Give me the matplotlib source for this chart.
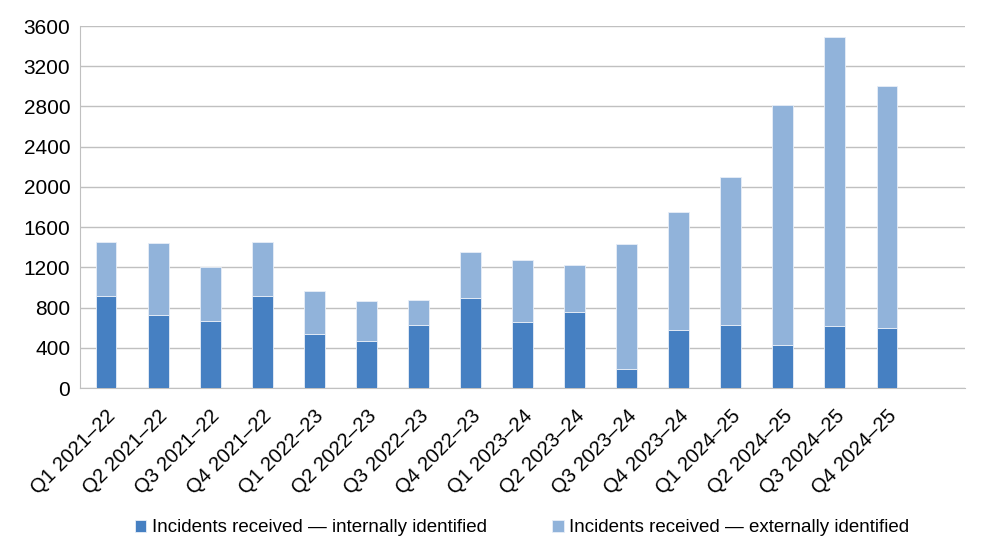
import matplotlib.pyplot as plt
import numpy as np

plt.rcParams['font.family'] = ['Liberation Sans', 'DejaVu Sans']

quarters = ["Q1 2021–22", "Q2 2021–22", "Q3 2021–22", "Q4 2021–22",
            "Q1 2022–23", "Q2 2022–23", "Q3 2022–23", "Q4 2022–23",
            "Q1 2023–24", "Q2 2023–24", "Q3 2023–24", "Q4 2023–24",
            "Q1 2024–25", "Q2 2024–25", "Q3 2024–25", "Q4 2024–25"]
internal = [911, 722, 663, 911, 534, 471, 623, 891,
            653, 759, 186, 573, 630, 424, 613, 593]
external = [537, 723, 540, 537, 430, 397, 255, 458,
            620, 464, 1242, 1173, 1471, 2386, 2877, 2413]

dark = "#4680c2"
light = "#91b3da"

fig = plt.figure(figsize=(9.91, 5.59), dpi=100)
ax = fig.add_axes([80/991, 1 - 388/559, 885/991, 362/559])

x = np.arange(len(quarters))
ax.bar(x, internal, width=0.4, color=dark, edgecolor="#e8eef7", linewidth=0.6,
       label="Incidents received — internally identified", zorder=3)
ax.bar(x, external, width=0.4, bottom=internal, color=light, edgecolor="#e8eef7",
       linewidth=0.6, label="Incidents received — externally identified", zorder=3)

ax.set_xlim(-0.5, len(quarters) + 0.5)
ax.set_ylim(0, 3600)
ax.set_yticks(np.arange(0, 3601, 400))
ax.yaxis.grid(True, color="#c0c0c0", linewidth=1, zorder=0)
ax.set_xticks(x)
ax.set_xticklabels(quarters, rotation=45, ha="right", rotation_mode="anchor")
ax.tick_params(axis="both", length=0, colors="black")
ax.tick_params(axis="x", pad=13, labelsize=14.5)
ax.tick_params(axis="y", pad=7, labelsize=15)
for s in ["top", "right"]:
    ax.spines[s].set_visible(False)
for s in ["left", "bottom"]:
    ax.spines[s].set_color("#c0c0c0")

fig.legend(loc="center", bbox_to_anchor=(522/991, 1 - 528/559), ncol=2, frameon=False,
           fontsize=13.5, handlelength=0.6, handleheight=0.6, handletextpad=0.3,
           columnspacing=3.5)

fig.savefig("out.png", dpi=100)
